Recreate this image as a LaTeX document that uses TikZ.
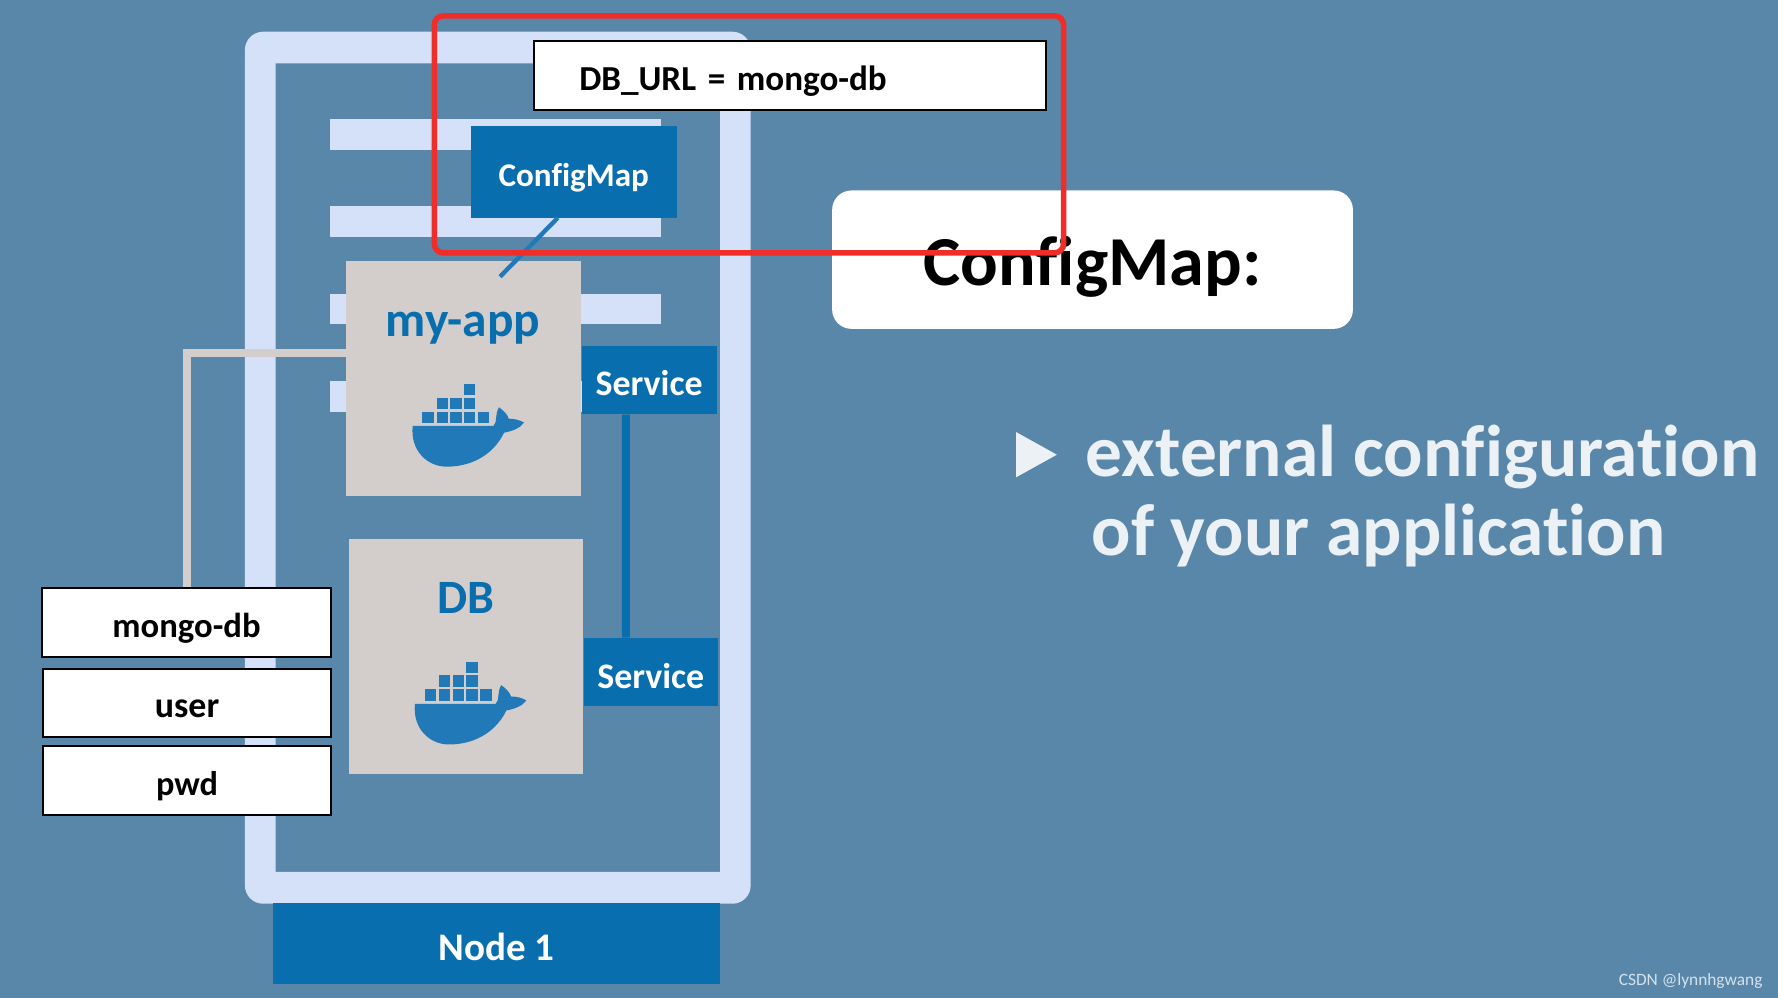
\documentclass[tikz,border=0pt]{standalone}
\usepackage{fontspec}
\setmainfont[Ligatures=NoCommon]{Carlito}
\usepackage{xcolor}
\usetikzlibrary{math}
\definecolor{mybg}{RGB}{88,135,170}
\definecolor{myframe}{RGB}{212,225,248}
\definecolor{mygrey}{RGB}{211,206,204}
\definecolor{myblue}{RGB}{9,110,173}
\definecolor{mywhale}{RGB}{33,121,184}
\definecolor{myred}{RGB}{240,45,40}
\definecolor{mytext}{RGB}{236,241,246}
\tikzset{
bluebox/.style={fill=myblue,text=white,inner sep=0pt,text height=8pt,text depth=0pt},
greybox/.style={fill=mygrey,inner sep=0pt},
whitebox/.style={fill=white,draw=black,line width=0.5pt,text=black,inner sep=0pt,text height=7.4pt,text depth=0pt},
whale/.pic={
  \begin{scope}[scale=0.294]
  \foreach \cx in {67,110,151,192,234}
    \fill[mywhale] (\cx,125) rectangle +(34,34);
  \foreach \cx in {110,151,192}
    \fill[mywhale] (\cx,83) rectangle +(34,34);
  \fill[mywhale] (192,42) rectangle +(34,34);
  \fill[mywhale] (38,168) -- (280,168)
    .. controls (292,160) and (284,130) .. (297,112)
    .. controls (310,122) and (322,132) .. (326,146)
    .. controls (342,146) and (360,150) .. (372,158)
    .. controls (360,175) and (335,184) .. (312,188)
    .. controls (285,245) and (225,290) .. (140,290)
    .. controls (80,290) and (30,240) .. (38,168) -- cycle;
  \end{scope}
}
}
\begin{document}
\begin{tikzpicture}[x=0.01cm,y=-0.01cm]
\tikzmath{
\barx=291;
\barw=292;
\barh=27;
}
\useasboundingbox (0,0) rectangle (1568,880);
\fill[mybg] (0,0) rectangle (1568,880);

% node frame with its bars
\fill[myframe,even odd rule] [rounded corners=0.16cm] (216,28) rectangle (662,797) [sharp corners] (243,56) rectangle (635,769);
\foreach \y in {105,182,259,336}
  \fill[myframe] (\barx,\y) rectangle +(\barw,\barh);

\node[bluebox,minimum width=3.94cm,minimum height=0.72cm,text height=8.4pt,font=\fontsize{9.8}{12}\selectfont\bfseries] (node) at (438,832) {Node 1};

\coordinate (appport) at (305,311);
\node[whitebox,minimum width=2.55cm,minimum height=0.6cm,font=\fontsize{8.7}{10}\selectfont\bfseries] (mongo) at (164.5,549) {mongo-db};
\node[whitebox,minimum width=2.54cm,minimum height=0.6cm,font=\fontsize{9}{10}\selectfont\bfseries] (user) at (165,620) {user};
\node[whitebox,minimum width=2.54cm,minimum height=0.61cm,font=\fontsize{8.6}{10}\selectfont\bfseries] (pwd) at (165,688.5) {pwd};
\draw[mygrey,line width=2pt] (appport) -- (mongo.north |- appport) -- (mongo.north);

\node[greybox,minimum size=2.07cm] (app) at (408.5,334) {};
\node[anchor=base,text=myblue,font=\fontsize{12.4}{15}\selectfont\bfseries] (applabel) at (408.5,297) {my-app};
\pic at (352.8,326.3) {whale};
\node[greybox,minimum size=2.07cm] (db) at (411,579) {};
\node[anchor=base,text=myblue,font=\fontsize{12}{15}\selectfont\bfseries] (dblabel) at (411,541) {DB};
\pic at (354.8,571.3) {whale};

\node[bluebox,minimum width=1.19cm,minimum height=0.6cm,font=\fontsize{9}{10}\selectfont\bfseries] (svca) at (572.5,335) {Service};
\node[bluebox,minimum width=1.18cm,minimum height=0.6cm,font=\fontsize{9}{10}\selectfont\bfseries] (svcb) at (574,593) {Service};
\draw[myblue,line width=2pt] ([xshift=-0.205cm]svca.south) -- ([xshift=-0.22cm]svcb.north);

\node[bluebox,minimum width=1.82cm,minimum height=0.81cm,text height=7.6pt,font=\fontsize{8.3}{11}\selectfont\bfseries] (cfg) at (506,151.5) {ConfigMap};
\coordinate (cfgstart) at (492,192);
\coordinate (cfgend) at (441,244);
\draw[mywhale,line width=1.1pt] (cfgstart) -- (cfgend);

\node[whitebox,minimum width=4.51cm,minimum height=0.61cm,text height=7.6pt,font=\fontsize{8.8}{10}\selectfont\bfseries,text width=3.71cm] (url) at (696.5,66.5) {DB\_URL = mongo-db};

\node[fill=white,rounded corners=0.17cm,minimum width=4.59cm,minimum height=1.22cm,inner sep=0pt,text=black,text height=13pt,text depth=0pt,font=\fontsize{17.6}{20}\selectfont\bfseries] (title) at (963.5,229) {ConfigMap:};
\draw[myred,line width=1.4pt,rounded corners=0.08cm] (383,14) rectangle (938,223);

\fill[mytext] (896,381) -- (932,401) -- (896,421) -- cycle;
\node[anchor=base west,text=mytext,inner sep=0pt,font=\fontsize{18.4}{20}\selectfont\bfseries] (conf) at (957,420) {external configuration};
\node[anchor=base west,text=mytext,inner sep=0pt,font=\fontsize{18.4}{20}\selectfont\bfseries] (appl) at (962,490) {of your application};

\node[anchor=east,text=mytext!85!mybg,inner sep=0pt,font=\fontsize{4.35}{5}\selectfont] (mark) at (1555,865) {CSDN @lynnhgwang};
\end{tikzpicture}
\end{document}
